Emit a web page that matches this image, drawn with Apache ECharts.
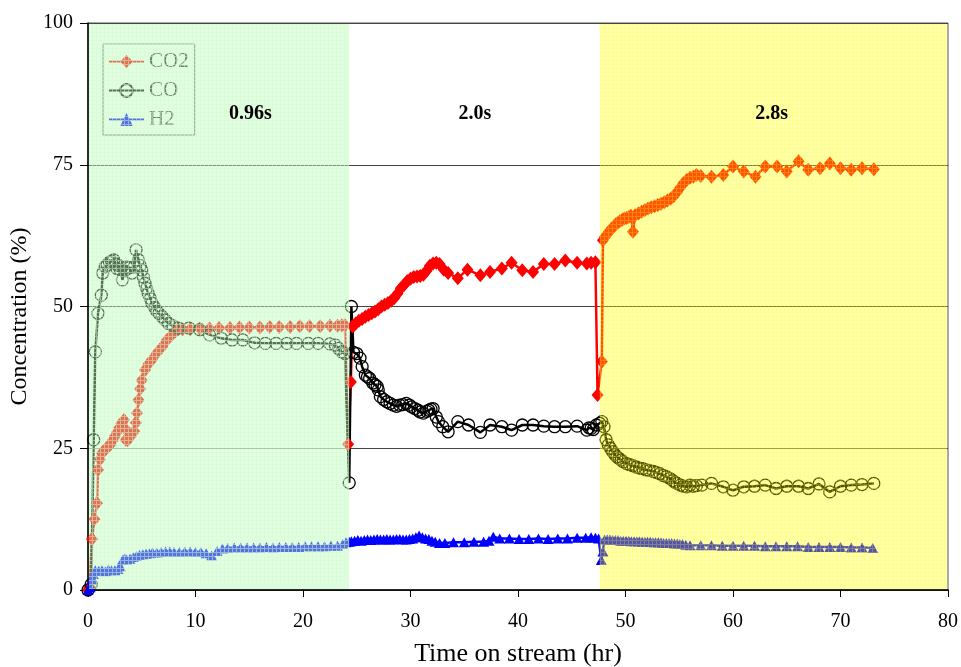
<!DOCTYPE html>
<html>
<head>
<meta charset="utf-8">
<script src="https://cdn.jsdelivr.net/npm/echarts@6/dist/echarts.min.js"></script>
<style>
  html, body { margin: 0; padding: 0; background: #ffffff; }
  #chart { width: 961px; height: 667px; }
</style>
</head>
<body>
<div id="chart"></div>
<script>
// Gas composition vs. time on stream: [hours, concentration %]
const co2 = [
  [0, 0], [0.15, 0.5], [0.37, 9.0], [0.6, 12.5], [0.84, 15.3], [0.93, 21.2], [1.1, 23.0], [1.3, 24.1],
  [1.5, 24.6], [1.7, 25.0], [1.9, 25.3], [2.1, 25.7], [2.3, 26.4], [2.5, 27.1], [2.7, 27.8], [2.9, 28.6],
  [3.1, 29.4], [3.35, 30.0], [3.45, 28.5], [3.5, 26.5], [3.7, 26.4], [4.0, 27.2], [4.3, 28.0], [4.45, 29.5],
  [4.56, 31.2], [4.7, 33.5], [4.85, 35.5], [5.0, 37.0], [5.3, 38.8], [5.6, 39.8], [5.95, 40.6], [6.4, 41.8],
  [6.9, 42.9], [7.3, 44.0], [7.8, 45.0], [8.1, 45.6], [8.4, 46.0], [8.8, 46.0], [9.5, 46.0], [10.4, 46.1],
  [11.3, 46.1], [12.2, 46.2], [13.2, 46.2], [14.1, 46.3], [15.0, 46.3], [16.0, 46.3], [16.9, 46.4], [17.8, 46.4],
  [18.8, 46.4], [19.7, 46.5], [20.6, 46.5], [21.6, 46.5], [22.5, 46.6], [23.2, 46.6], [23.6, 46.7], [23.9, 46.7],
  [24.2, 25.7], [24.45, 36.7], [24.6, 46.5],
  [24.7, 46.6], [24.9, 47.0], [25.2, 47.5], [25.5, 47.8], [25.8, 48.2], [26.1, 48.5], [26.4, 48.8], [26.7, 49.1],
  [27.0, 49.5], [27.3, 50.0], [27.6, 50.3], [27.9, 50.6], [28.2, 51.0], [28.5, 51.5], [28.8, 52.3], [29.1, 53.2],
  [29.4, 53.8], [29.7, 54.5], [30.0, 54.9], [30.3, 55.2], [30.6, 55.3], [30.9, 55.4], [31.2, 55.6], [31.5, 56.3],
  [31.8, 57.2], [32.1, 57.6], [32.4, 57.7], [32.7, 57.5], [33.1, 56.5], [33.5, 55.9], [34.4, 55.0], [35.3, 56.5],
  [36.5, 55.5], [37.4, 56.1], [38.5, 56.7], [39.4, 57.7], [40.4, 56.4], [41.4, 56.1], [42.4, 57.5], [43.4, 57.5],
  [44.4, 58.1], [45.5, 57.7], [46.4, 57.6], [46.8, 57.7], [47.2, 57.8], [47.4, 34.4], [47.8, 40.3],
  [47.9, 61.7], [48.1, 62.3], [48.3, 62.8], [48.5, 63.3], [48.7, 63.7], [48.9, 64.1], [49.1, 64.5], [49.3, 64.8],
  [49.5, 65.1], [49.7, 65.3], [49.9, 65.5], [50.1, 65.6], [50.3, 65.8], [50.5, 66.0], [50.7, 63.2], [50.9, 66.1],
  [51.2, 66.4], [51.5, 66.7], [51.8, 67.0], [52.1, 67.3], [52.4, 67.5], [52.7, 67.7], [53.0, 67.9], [53.3, 68.1],
  [53.6, 68.4], [53.9, 68.7], [54.2, 69.0], [54.5, 69.5], [54.8, 70.2], [55.1, 71.0], [55.4, 71.8], [55.7, 72.3],
  [56.0, 72.7], [56.3, 72.9], [56.6, 73.2], [57.0, 73.0], [58.0, 72.9], [59.1, 73.2], [60.0, 74.7], [61.0, 73.8],
  [62.1, 72.9], [63.0, 74.7], [64.1, 74.7], [65.0, 73.8], [66.1, 75.6], [67.0, 74.1], [68.1, 74.4], [69.0, 75.2],
  [70.0, 74.4], [71.0, 74.1], [72.0, 74.4], [73.1, 74.2]
];

const co = [
  [0, 0], [0.3, 1.0], [0.53, 26.5], [0.68, 42.0], [0.93, 48.8], [1.24, 52.0], [1.37, 55.9], [1.6, 57.0],
  [1.77, 57.3], [2.0, 57.8], [2.2, 58.0], [2.4, 58.2], [2.6, 57.5], [2.7, 56.7], [2.9, 57.2], [3.0, 56.5],
  [3.2, 54.7], [3.4, 56.3], [3.6, 57.0], [3.8, 56.8], [4.1, 55.9], [4.3, 57.0], [4.47, 60.0], [4.7, 58.2],
  [4.85, 57.2], [5.0, 56.4], [5.15, 55.2], [5.3, 54.1], [5.45, 53.2], [5.6, 52.3], [5.8, 51.4], [5.95, 50.6],
  [6.2, 49.8], [6.4, 49.2], [6.6, 48.8], [6.9, 48.2], [7.2, 47.6], [7.5, 47.0], [7.9, 46.6], [8.4, 46.2],
  [9.4, 46.2], [10.4, 45.9], [11.3, 45.0], [12.4, 44.4], [13.4, 44.1], [14.4, 44.1], [15.5, 43.6], [16.5, 43.5],
  [17.5, 43.5], [18.5, 43.5], [19.4, 43.5], [20.5, 43.5], [21.4, 43.5], [22.5, 43.4], [23.0, 43.2], [23.3, 42.6],
  [23.6, 42.0], [23.9, 41.7], [24.3, 18.9], [24.5, 50.0], [24.7, 41.9],
  [25.0, 41.7], [25.3, 40.9], [25.5, 39.4], [25.8, 37.9], [26.0, 37.6], [26.2, 37.3], [26.5, 36.5], [26.7, 36.2],
  [26.9, 35.9], [27.0, 35.3], [27.2, 34.1], [27.5, 33.6], [27.8, 33.2], [28.1, 32.9], [28.4, 32.6], [28.7, 32.4],
  [29.0, 32.6], [29.3, 32.7], [29.6, 32.9], [29.9, 32.6], [30.1, 32.3], [30.4, 32.0], [30.7, 31.7], [30.9, 31.4],
  [31.2, 31.2], [31.5, 31.5], [31.7, 31.7], [31.9, 31.9], [32.1, 32.0], [32.4, 30.5], [32.6, 29.7], [33.0, 28.8],
  [33.5, 27.9], [34.4, 29.7], [35.4, 29.1], [36.5, 27.8], [37.4, 29.1], [38.5, 28.8], [39.4, 28.2], [40.4, 29.1],
  [41.4, 29.1], [42.4, 28.9], [43.4, 28.8], [44.4, 28.8], [45.5, 28.9], [46.4, 28.2], [46.6, 28.6], [46.8, 28.5],
  [47.0, 28.3], [47.3, 29.1], [47.6, 29.4], [47.8, 29.7],
  [48.0, 28.8], [48.2, 26.5], [48.4, 25.6], [48.6, 25.0], [48.8, 24.4], [49.0, 23.9], [49.2, 23.5], [49.4, 23.2],
  [49.6, 22.9], [49.8, 22.6], [50.1, 22.3], [50.4, 22.1], [50.7, 21.9], [51.0, 21.7], [51.3, 21.5], [51.6, 21.4],
  [51.9, 21.2], [52.2, 21.1], [52.6, 20.9], [52.9, 20.7], [53.2, 20.5], [53.5, 20.2], [53.8, 20.0], [54.1, 19.7],
  [54.4, 19.3], [54.6, 19.0], [54.8, 18.8], [55.1, 18.5], [55.4, 18.3], [55.7, 18.2], [56.0, 18.5], [56.3, 18.3],
  [56.6, 18.4], [57.1, 18.5], [58.0, 18.8], [59.1, 18.2], [60.0, 17.6], [61.0, 18.2], [62.0, 18.3], [63.0, 18.5],
  [64.0, 17.9], [65.0, 18.3], [66.1, 18.3], [67.0, 17.9], [68.0, 18.7], [69.0, 17.3], [70.0, 18.3], [71.0, 18.5],
  [72.0, 18.6], [73.1, 18.8]
];

const h2 = [
  [0, 0], [0.2, 0.5], [0.37, 1.8], [0.5, 2.8], [0.68, 3.5], [1.0, 3.4], [1.3, 3.5], [1.6, 3.3],
  [1.9, 3.6], [2.2, 3.5], [2.5, 3.5], [2.8, 3.7], [3.0, 4.2], [3.2, 5.3], [3.4, 5.6], [3.6, 5.4],
  [3.9, 5.5], [4.2, 5.8], [4.5, 6.0], [4.8, 6.2], [5.1, 6.3], [5.4, 6.4], [5.7, 6.5], [6.0, 6.6],
  [6.4, 6.6], [6.8, 6.7], [7.2, 6.8], [7.6, 6.8], [8.0, 6.7], [8.5, 6.7], [9.0, 6.8], [9.5, 6.8],
  [10.0, 6.7], [10.5, 6.7], [11.0, 6.5], [11.5, 6.1], [12.0, 6.9], [12.5, 7.3], [13.0, 7.4], [13.6, 7.5],
  [14.2, 7.5], [14.8, 7.5], [15.4, 7.5], [16.0, 7.5], [16.6, 7.6], [17.2, 7.5], [17.8, 7.6], [18.4, 7.6],
  [19.0, 7.6], [19.6, 7.6], [20.2, 7.7], [20.8, 7.7], [21.4, 7.7], [22.0, 7.7], [22.6, 7.8], [23.2, 7.8],
  [23.7, 8.1], [24.0, 8.4], [24.3, 8.5],
  [24.5, 8.6], [24.8, 8.7], [25.1, 8.8], [25.4, 8.7], [25.7, 8.8], [26.0, 8.9], [26.3, 8.8], [26.6, 8.9],
  [26.9, 9.0], [27.2, 8.9], [27.5, 8.9], [27.8, 9.0], [28.1, 8.9], [28.4, 8.9], [28.7, 9.0], [29.0, 9.0],
  [29.3, 8.9], [29.6, 8.9], [29.9, 9.0], [30.2, 9.1], [30.5, 9.3], [30.8, 9.6], [31.1, 9.3], [31.4, 9.1],
  [31.7, 9.0], [32.0, 8.7], [32.3, 8.5], [32.7, 8.3], [33.2, 8.3], [34.0, 8.4], [35.0, 8.4], [35.9, 8.5],
  [36.8, 8.5], [37.3, 8.7], [37.7, 9.4], [38.3, 9.1], [39.2, 9.1], [40.1, 9.0], [41.0, 9.0], [41.9, 9.1],
  [42.8, 9.0], [43.7, 9.1], [44.6, 9.1], [45.5, 9.2], [46.3, 9.2], [46.8, 9.3], [47.2, 9.2], [47.5, 9.1],
  [47.75, 5.3], [47.9, 6.8],
  [48.05, 8.9], [48.3, 8.9], [48.55, 8.9], [48.8, 8.8], [49.05, 8.8], [49.3, 8.8], [49.55, 8.7], [49.8, 8.7],
  [50.05, 8.7], [50.3, 8.7], [50.55, 8.6], [50.8, 8.6], [51.05, 8.6], [51.3, 8.6], [51.55, 8.5], [51.8, 8.5],
  [52.05, 8.5], [52.3, 8.5], [52.55, 8.4], [52.8, 8.4], [53.05, 8.4], [53.3, 8.4], [53.55, 8.3], [53.8, 8.3],
  [54.05, 8.3], [54.3, 8.3], [54.55, 8.2], [54.8, 8.2], [55.05, 8.1], [55.3, 8.1], [55.6, 8.0], [56.0, 7.9],
  [57.0, 7.9], [58.0, 7.9], [59.0, 7.8], [60.0, 7.8], [61.0, 7.8], [62.0, 7.8], [63.0, 7.7], [64.0, 7.7],
  [65.0, 7.7], [66.0, 7.7], [67.0, 7.6], [68.0, 7.6], [69.0, 7.6], [70.0, 7.6], [71.0, 7.5], [72.0, 7.5],
  [73.0, 7.4]
];

// Residence-time periods (hours) and their labels
const shadedBands = [[0, 24.3], [47.6, 80]];
const phaseLabels = ['0.96s', '2.0s', '2.8s'];
const phaseLabelX = [15.1, 36.0, 63.6];
const phaseLabelY = [84, 84, 84];

const xMin = 0, xMax = 80, xStep = 10;
const yMin = 0, yMax = 100, yStep = 25;

const serif = "'Liberation Serif', 'Times New Roman', serif";

// Fine hatched tint laid over a period (semi-transparent cells, denser grid lines)
function gridPattern(cell, line) {
  const c = document.createElement('canvas');
  c.width = 4; c.height = 4;
  const g = c.getContext('2d');
  g.fillStyle = cell;
  g.fillRect(0, 0, 4, 4);
  g.clearRect(0, 0, 4, 1);
  g.clearRect(0, 1, 1, 3);
  g.fillStyle = line;
  g.fillRect(0, 0, 4, 1);
  g.fillRect(0, 1, 1, 3);
  return { image: c, repeat: 'repeat' };
}
const bandFills = [
  gridPattern('rgba(185,255,185,0.45)', 'rgba(205,250,205,0.72)'),
  gridPattern('rgba(255,255,0,0.33)', 'rgba(255,255,30,0.5)')
];

const chart = echarts.init(document.getElementById('chart'), null, { renderer: 'canvas' });

chart.setOption({
  animation: false,
  backgroundColor: '#ffffff',
  grid: {
    left: 88, right: 13, top: 23, bottom: 77,
    outerBoundsMode: 'none',
    show: true, borderColor: '#555555', borderWidth: 1, backgroundColor: 'transparent'
  },
  legend: {
    orient: 'vertical',
    left: 103, top: 44,
    padding: [7, 6, 5, 5],
    itemWidth: 35, itemHeight: 16, itemGap: 8,
    borderColor: '#666666', borderWidth: 1,
    selectedMode: false,
    textStyle: { fontFamily: serif, fontSize: 21, color: '#222222' },
    data: ['CO2', 'CO', 'H2']
  },
  xAxis: {
    type: 'value', min: xMin, max: xMax, interval: xStep,
    name: 'Time on stream (hr)', nameLocation: 'middle', nameGap: 51,
    nameTextStyle: { fontFamily: serif, fontSize: 26, color: '#000' },
    axisLine: { show: true, lineStyle: { color: '#000', width: 1.5 } },
    axisTick: { show: true, length: 7, lineStyle: { color: '#000', width: 1 } },
    axisLabel: { fontFamily: serif, fontSize: 20, color: '#000', margin: 22 },
    splitLine: { show: false }
  },
  yAxis: {
    type: 'value', min: yMin, max: yMax, interval: yStep,
    name: 'Concentration (%)', nameLocation: 'middle', nameGap: 44, nameRotate: 90,
    nameTextStyle: { fontFamily: serif, fontSize: 24, color: '#000', padding: [0, 20, 0, 0] },
    axisLine: { show: true, lineStyle: { color: '#000', width: 1.5 } },
    axisTick: { show: true, length: 8, lineStyle: { color: '#000', width: 1 } },
    axisLabel: { fontFamily: serif, fontSize: 20, color: '#000', margin: 15 },
    splitLine: { show: true, lineStyle: { color: '#444444', width: 1 } }
  },
  series: [
    {
      name: 'CO2', type: 'line', data: co2, z: 2,
      symbol: 'diamond', symbolSize: [12, 14],
      lineStyle: { color: '#ff0000', width: 2.5 },
      itemStyle: { color: '#ff0000' }
    },
    {
      name: 'CO', type: 'line', data: co, z: 2,
      symbol: 'circle', symbolSize: 12,
      lineStyle: { color: '#000000', width: 2.5 },
      itemStyle: { color: 'rgba(0,0,0,0)', borderColor: '#000000', borderWidth: 1.3 }
    },
    {
      name: 'H2', type: 'line', data: h2, z: 2,
      symbol: 'triangle', symbolSize: [11, 10],
      lineStyle: { color: '#0000ff', width: 2.5 },
      itemStyle: { color: '#0000ff' }
    },
    {
      // tinted periods drawn over the curves and the legend
      type: 'custom', name: 'bands', z: 6, silent: true,
      data: shadedBands,
      renderItem: function (params, api) {
        const a = api.coord([api.value(0), yMax]);
        const b = api.coord([api.value(1), yMin]);
        const cs = params.coordSys;
        const x0 = Math.max(a[0], cs.x + 1);
        const x1 = Math.min(b[0], cs.x + cs.width - 1);
        const y0 = cs.y + 1;
        const y1 = cs.y + cs.height - 1;
        return {
          type: 'rect',
          shape: { x: x0, y: y0, width: x1 - x0, height: y1 - y0 },
          style: { fill: bandFills[params.dataIndex] }
        };
      }
    },
    {
      // period labels
      type: 'custom', name: 'phases', z: 10, silent: true,
      data: phaseLabelX.map(function (x, i) { return [x, phaseLabelY[i]]; }),
      renderItem: function (params, api) {
        const p = api.coord([api.value(0), api.value(1)]);
        return {
          type: 'text',
          x: p[0], y: p[1],
          style: {
            text: phaseLabels[params.dataIndex],
            fill: '#000',
            fontFamily: serif, fontSize: 20, fontWeight: 'bold',
            align: 'center', verticalAlign: 'middle'
          }
        };
      }
    }
  ]
});
</script>
</body>
</html>
